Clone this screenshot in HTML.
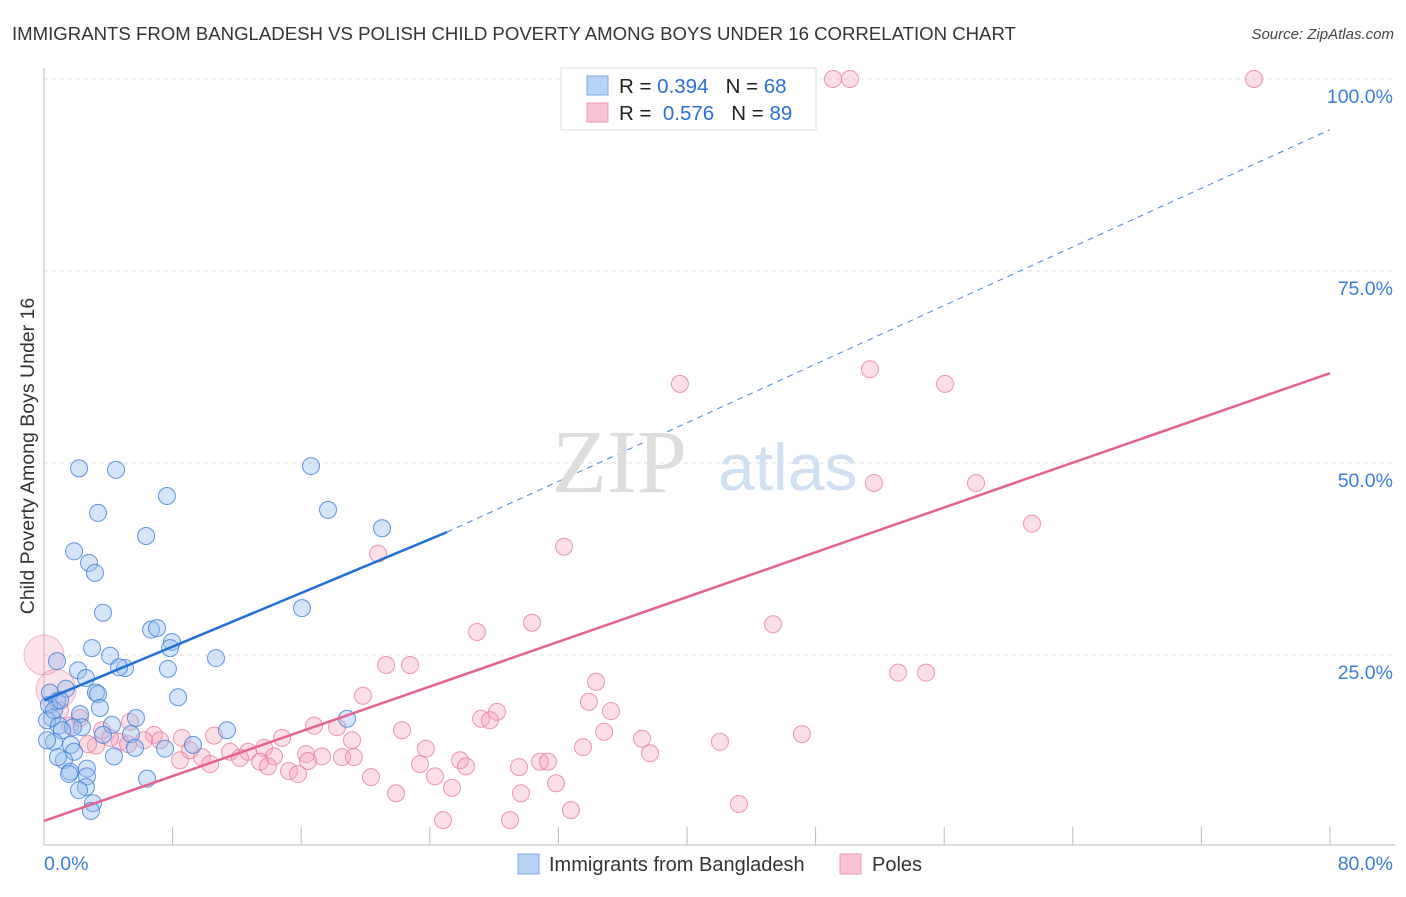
<!DOCTYPE html>
<html><head><meta charset="utf-8"><style>
body{margin:0;background:#fff;font-family:"Liberation Sans",sans-serif;}
</style></head><body>
<svg width="1406" height="892" xmlns="http://www.w3.org/2000/svg">
<g id="grid"></g>
<g id="axes"></g>
<g id="marks"></g>
<text x="12" y="40" font-size="18.6" fill="#333">IMMIGRANTS FROM BANGLADESH VS POLISH CHILD POVERTY AMONG BOYS UNDER 16 CORRELATION CHART</text>
<text x="1394" y="39" font-size="15" fill="#444" font-style="italic" text-anchor="end">Source: ZipAtlas.com</text>
<text x="34" y="456" font-size="19.5" fill="#333" text-anchor="middle" transform="rotate(-90 34 456)">Child Poverty Among Boys Under 16</text>
<text x="552" y="492" font-size="90" fill="#ddd" font-family="Liberation Serif,serif">ZIP</text>
<text x="718" y="490" font-size="66" fill="#cfe0f3">atlas</text>
<g>
<rect x="561" y="68" width="255" height="62" fill="#fff" stroke="#ddd"/>
<rect x="587" y="76" width="21" height="19" fill="#b8d3f5" stroke="#7aa9e6"/>
<rect x="587" y="103" width="21" height="19" fill="#f9c5d4" stroke="#ee95b0"/>
<text x="619" y="93" font-size="20.5" fill="#222" xml:space="preserve">R = <tspan fill="#2a6fd6">0.394</tspan>   N = <tspan fill="#2a6fd6">68</tspan></text>
<text x="619" y="120" font-size="20.5" fill="#222" xml:space="preserve">R =  <tspan fill="#2a6fd6">0.576</tspan>   N = <tspan fill="#2a6fd6">89</tspan></text>
</g>
<g>
<rect x="518" y="854" width="21" height="20" fill="#b8d3f5" stroke="#7aa9e6"/>
<text x="549" y="871" font-size="20" fill="#333">Immigrants from Bangladesh</text>
<rect x="840" y="854" width="21" height="20" fill="#f9c5d4" stroke="#ee95b0"/>
<text x="872" y="871" font-size="20" fill="#333">Poles</text>
</g>
</svg>
<script>
const xTicks=[0,80];
const yTicks=[25,50,75,100];
const bluePx=[[79,468],[116,470],[311,466],[167,496],[98,513],[328,510],[146,536],[382,528],[74,551],[89,563],[95,573],[302,608],[103,613],[151,630],[157,628],[172,642],[170,648],[92,648],[216,658],[57,661],[110,656],[125,668],[119,667],[78,670],[168,669],[86,678],[66,689],[96,693],[98,694],[178,697],[57,701],[49,705],[100,708],[80,714],[52,718],[47,720],[347,719],[136,718],[112,725],[82,727],[59,726],[73,727],[227,730],[62,730],[131,734],[103,735],[165,749],[71,745],[54,742],[193,745],[135,748],[74,752],[114,756],[64,760],[70,772],[58,757],[87,769],[87,776],[69,774],[147,779],[86,787],[79,790],[93,803],[91,811],[54,710],[50,693],[60,700],[47,740]];
const pinkPx=[[833,79],[850,79],[1254,79],[680,384],[870,369],[945,384],[874,483],[976,483],[1032,524],[378,554],[564,547],[532,623],[477,632],[773,624],[898,673],[926,673],[386,665],[410,665],[596,682],[589,702],[363,696],[611,711],[497,712],[481,719],[490,720],[314,726],[402,730],[604,732],[642,739],[583,747],[720,742],[802,734],[650,753],[426,749],[282,738],[337,727],[60,710],[80,718],[70,726],[130,722],[102,730],[154,735],[182,738],[160,740],[144,740],[120,742],[96,746],[88,744],[190,750],[214,736],[230,752],[248,752],[264,748],[274,756],[202,757],[210,764],[240,758],[260,762],[268,766],[306,754],[322,756],[342,757],[354,757],[308,761],[180,760],[352,740],[420,764],[460,760],[466,766],[519,767],[540,762],[548,762],[556,783],[435,776],[371,777],[289,771],[298,774],[396,793],[452,788],[521,793],[443,820],[510,820],[571,810],[739,804],[128,744],[110,738]];
// data values (x %, y %)
const blueX=bluePx.map(p=>+((p[0]-44)/1286*80).toFixed(2));
const blueY=bluePx.map(p=>+((847-p[1])/768*100).toFixed(1));
const pinkX=pinkPx.map(p=>+((p[0]-44)/1286*80).toFixed(2));
const pinkY=pinkPx.map(p=>+((847-p[1])/768*100).toFixed(1));
const bigPinkX=[0,0.75];
const bigPinkY=[25,20.5];
const blueLine=[[0,19.1],[25.07,41.0]];
const blueExt=[[25.07,41.0],[80,93.4]];
const pinkLine=[[0,3.4],[80,61.7]];
const X=v=>44+v/80*1286, Y=v=>847-v/100*768;
const NS="http://www.w3.org/2000/svg";
function mk(t,a,parent){const e=document.createElementNS(NS,t);for(const k in a)e.setAttribute(k,a[k]);document.getElementById(parent).appendChild(e);return e;}
yTicks.forEach(t=>{
 const g=mk('line',{x1:44,x2:1395,y1:Y(t),y2:Y(t),stroke:'#ddd','stroke-dasharray':'4,4'},'grid');
 
 
 const l=mk('text',{x:1393,y:Y(t)+24,'font-size':19.5,fill:'#3b7dd8','text-anchor':'end'},'axes');l.textContent=t.toFixed(1)+'%';
 
 
});
const ax=mk('line',{x1:44,x2:1395,y1:845,y2:845,stroke:'#bbb'},'axes');


const ay=mk('line',{x1:44,x2:44,y1:68,y2:845,stroke:'#bbb'},'axes');


for(let i=1;i<=10;i++){const t=mk('line',{x1:X(i*8),x2:X(i*8),y1:827,y2:845,stroke:'#bbb'},'axes');
 
 }
xTicks.forEach((t,i)=>{const l=mk('text',{x:i?1393:44,y:870,'font-size':19.5,fill:'#3b7dd8','text-anchor':i?'end':'start'},'axes');l.textContent=t.toFixed(1)+'%';
 
 });
bigPinkX.forEach((v,i)=>{const c=mk('circle',{cx:X(v),cy:Y(bigPinkY[i]),r:20,fill:'rgba(245,160,185,0.3)',stroke:'rgba(230,120,155,0.5)'},'marks');
 
 });
pinkX.forEach((v,i)=>{const c=mk('circle',{cx:X(v),cy:Y(pinkY[i]),r:8.5,fill:'rgba(245,160,185,0.35)',stroke:'rgba(230,120,155,0.75)'},'marks');
 
 });
blueX.forEach((v,i)=>{const c=mk('circle',{cx:X(v),cy:Y(blueY[i]),r:8.5,fill:'rgba(150,190,240,0.4)',stroke:'rgba(60,125,215,0.8)'},'marks');
 
 });
let l1=mk('line',{x1:X(blueExt[0][0]),y1:Y(blueExt[0][1]),x2:X(blueExt[1][0]),y2:Y(blueExt[1][1]),stroke:'#4a86d8','stroke-dasharray':'6,5','stroke-width':1},'marks');


let l2=mk('line',{x1:X(blueLine[0][0]),y1:Y(blueLine[0][1]),x2:X(blueLine[1][0]),y2:Y(blueLine[1][1]),stroke:'#1f6fd8','stroke-width':2.5},'marks');


let l3=mk('line',{x1:X(pinkLine[0][0]),y1:Y(pinkLine[0][1]),x2:X(pinkLine[1][0]),y2:Y(pinkLine[1][1]),stroke:'#e5618f','stroke-width':2.5},'marks');


</script>
</body></html>
